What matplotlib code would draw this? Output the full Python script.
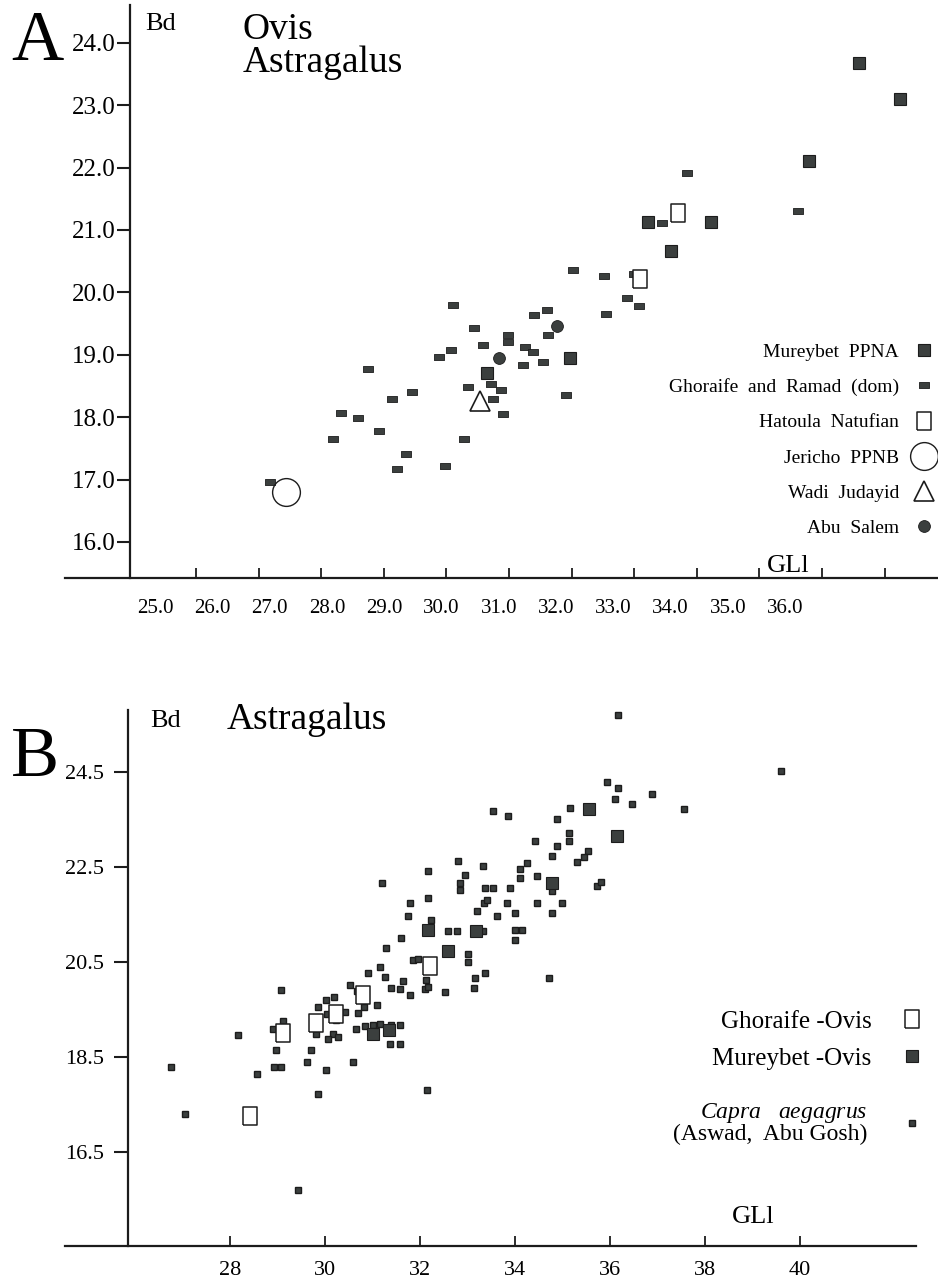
import matplotlib

matplotlib.use("Agg")
import matplotlib.pyplot as plt
from matplotlib.lines import Line2D

plt.rcParams["font.family"] = ["Liberation Serif", "DejaVu Serif"]
plt.rcParams["mathtext.fontset"] = "custom"
plt.rcParams["mathtext.it"] = "Liberation Serif:italic"
plt.rcParams["mathtext.rm"] = "Liberation Serif"

W, H = 938, 1281
INK = "#1c1c1c"
FILL = "#3b3f3e"

# ---- panel A: Ovis astragalus, GLl vs Bd (mm) ----
a_mureybet_gl = [35.59, 36.25, 34.79, 32.22, 33.23, 32.59, 30.97, 29.65]
a_mureybet_bd = [23.67, 23.10, 22.11, 21.12, 21.12, 20.67, 18.94, 18.71]
a_ghoraife_gl = [26.18, 27.19, 27.32, 27.58, 27.74, 27.93, 28.13, 28.21, 28.35, 28.45,
                 28.88, 28.98, 29.08, 29.11, 29.28, 29.35, 29.44, 29.59, 29.71, 29.75,
                 29.87, 29.91, 29.98, 29.98, 30.23, 30.26, 30.39, 30.40, 30.55, 30.60,
                 30.62, 30.91, 31.03, 31.52, 31.55, 31.88, 32.00, 32.08, 32.44, 32.85,
                 34.61]
a_ghoraife_bd = [16.96, 17.65, 18.06, 17.98, 18.77, 17.77, 18.29, 17.17, 17.41, 18.40,
                 18.96, 17.21, 19.08, 19.79, 17.65, 18.48, 19.43, 19.16, 18.53, 18.29,
                 18.43, 18.05, 19.32, 19.21, 18.84, 19.12, 19.04, 19.63, 18.88, 19.71,
                 19.31, 18.35, 20.35, 20.26, 19.66, 19.91, 20.30, 19.78, 21.11, 21.91,
                 21.30]
a_hatoula_gl = [32.70, 32.10]
a_hatoula_bd = [21.27, 20.22]
a_jericho_gl = [26.43]
a_jericho_bd = [16.80]
a_wadi_gl = [29.54]
a_wadi_bd = [18.26]
a_abusalem_gl = [29.84, 30.76]
a_abusalem_bd = [18.95, 19.46]
a_xticks = [25.0, 26.0, 27.0, 28.0, 29.0, 30.0, 31.0, 32.0, 33.0, 34.0, 35.0, 36.0]
a_yticks = [16.0, 17.0, 18.0, 19.0, 20.0, 21.0, 22.0, 23.0, 24.0]

# ---- panel B: Astragalus, GLl vs Bd (mm) ----
b_ghoraife_gl = [32.20, 30.80, 30.23, 29.80, 29.12, 28.42]
b_ghoraife_bd = [20.40, 19.80, 19.39, 19.21, 19.00, 17.25]
b_mureybet_gl = [35.56, 36.14, 34.77, 32.17, 33.17, 32.58, 31.02, 31.35]
b_mureybet_bd = [23.71, 23.15, 22.15, 21.17, 21.15, 20.73, 18.97, 19.06]
b_capra_gl = [36.16, 39.60, 35.93, 36.16, 36.11, 36.89, 36.47, 37.56, 35.16, 34.89,
              33.53, 33.85, 35.14, 35.14, 34.42, 34.89, 35.53, 35.46, 35.31, 34.78,
              32.79, 33.32, 34.25, 32.17, 32.95, 34.11, 34.11, 34.46, 34.77, 35.73,
              35.81, 32.84, 32.84, 31.19, 33.37, 33.53, 33.89, 32.16, 31.79, 31.75,
              32.22, 33.20, 33.35, 33.41, 33.83, 33.62, 34.00, 34.46, 34.98, 34.77,
              33.99, 34.15, 33.99, 34.72, 32.58, 32.78, 33.32, 31.59, 31.28, 33.00,
              33.00, 31.86, 31.95, 31.16, 30.91, 31.27, 31.65, 32.12, 33.15, 33.37,
              33.14, 30.53, 30.68, 31.38, 31.58, 31.79, 32.11, 32.17, 32.53, 31.10,
              30.18, 30.01, 29.85, 30.04, 30.41, 30.70, 30.81, 30.23, 29.80, 30.17,
              30.28, 30.07, 30.65, 30.85, 31.00, 31.16, 31.38, 31.58, 31.37, 31.58,
              29.11, 28.90, 29.07, 28.96, 29.70, 29.61, 28.93, 29.07, 30.01, 30.58,
              28.57, 32.15, 26.75, 27.05, 28.16, 29.43, 29.85]
b_capra_bd = [25.69, 24.51, 24.29, 24.15, 23.93, 24.03, 23.82, 23.71, 23.73, 23.50,
              23.67, 23.57, 23.21, 23.04, 23.04, 22.93, 22.83, 22.71, 22.61, 22.73,
              22.63, 22.52, 22.57, 22.42, 22.32, 22.45, 22.27, 22.31, 21.99, 22.10,
              22.18, 22.15, 22.00, 22.15, 22.05, 22.05, 22.05, 21.84, 21.73, 21.47,
              21.38, 21.57, 21.73, 21.79, 21.74, 21.47, 21.53, 21.74, 21.74, 21.52,
              21.16, 21.16, 20.95, 20.15, 21.15, 21.15, 21.15, 20.99, 20.79, 20.67,
              20.50, 20.53, 20.55, 20.38, 20.26, 20.17, 20.10, 20.11, 20.16, 20.26,
              19.95, 20.01, 19.88, 19.95, 19.93, 19.80, 19.92, 19.96, 19.86, 19.59,
              19.75, 19.69, 19.55, 19.39, 19.44, 19.43, 19.54, 19.28, 18.97, 18.98,
              18.92, 18.87, 19.08, 19.15, 19.17, 19.18, 19.17, 19.17, 18.76, 18.76,
              19.25, 19.08, 19.90, 18.64, 18.64, 18.39, 18.28, 18.28, 18.23, 18.39,
              18.14, 17.80, 18.28, 17.30, 18.96, 15.69, 17.72]
b_xticks = [28, 30, 32, 34, 36, 38, 40]
b_yticks = [16.5, 18.5, 20.5, 22.5, 24.5]

# marker shapes
flat_rect = [(-1, -0.55), (1, -0.55), (1, 0.55), (-1, 0.55), (-1, -0.55)]
tall_rect = [(-0.7, -1), (0.7, -1), (0.7, 1), (-0.7, 1), (-0.7, -1)]
tall_rect_b = [(-0.78, -1), (0.78, -1), (0.78, 1), (-0.78, 1), (-0.78, -1)]


def fx(px):
    return px / W


def fy(py):
    return 1 - py / H


def frame(ax, spine_x):
    for side in ("top", "right"):
        ax.spines[side].set_visible(False)
    ax.spines["left"].set_position(("data", spine_x))
    for side in ("left", "bottom"):
        ax.spines[side].set_linewidth(1.6)
        ax.spines[side].set_color(INK)
    ax.patch.set_alpha(0)


fig = plt.figure(figsize=(W / 100, H / 100), dpi=100)

# ---------------- panel A ----------------
ax = fig.add_axes([fx(65), fy(578), fx(873), 573 / H])
ax.set_xlim(22.907, 36.853)
ax.set_ylim(15.422, 24.604)
frame(ax, 23.946)

st_m = dict(ls="none", marker="s", ms=8.5, mfc=FILL, mec=INK, mew=0.8)
st_g = dict(ls="none", marker=flat_rect, ms=6.8, mfc=FILL, mec=INK, mew=0.6)
st_h = dict(ls="none", marker=tall_rect, ms=13.5, mfc="white", mec=INK, mew=1.1)
st_j = dict(ls="none", marker="o", ms=20, mfc="none", mec=INK, mew=1.0)
st_w = dict(ls="none", marker="^", ms=14, mfc="white", mec=INK, mew=1.2)
st_s = dict(ls="none", marker="o", ms=8.5, mfc=FILL, mec=INK, mew=0.6)

ax.plot(a_ghoraife_gl, a_ghoraife_bd, **st_g)
ax.plot(a_hatoula_gl, a_hatoula_bd, **st_h)
ax.plot(a_mureybet_gl, a_mureybet_bd, **st_m)
ax.plot(a_jericho_gl, a_jericho_bd, **st_j)
ax.plot(a_wadi_gl, a_wadi_bd, **st_w)
ax.plot(a_abusalem_gl, a_abusalem_bd, **st_s)

ax.set_yticks(a_yticks)
ax.set_yticklabels([f"{v:.1f}" for v in a_yticks])
ax.tick_params(axis="y", direction="out", length=9.5, width=1.5, labelsize=18, pad=1, color=INK)
# tick marks sit on the data scale; the printed labels are shifted left in the original
ax.set_xticks(a_xticks, minor=True)
ax.set_xticks([24.345 + (v - 25.0) * 0.9153 for v in a_xticks])
ax.set_xticklabels([f"{v:.1f}" for v in a_xticks])
ax.tick_params(axis="x", which="major", length=0, labelsize=15, pad=15)
ax.tick_params(axis="x", which="minor", direction="in", length=7, width=1.3, color=INK)

leg_a = [
    ("Mureybet  PPNA", st_m),
    ("Ghoraife  and  Ramad  (dom)", st_g),
    ("Hatoula  Natufian", st_h),
    ("Jericho  PPNB", st_j),
    ("Wadi  Judayid", st_w),
    ("Abu  Salem", st_s),
]
ax.legend([Line2D([], [], **s) for _, s in leg_a], [t for t, _ in leg_a],
          markerfirst=False, frameon=False, loc="center right",
          bbox_to_anchor=(fx(938), fy(440)), bbox_transform=fig.transFigure,
          fontsize=14, labelspacing=0.9, handlelength=1.4, handletextpad=0.6,
          borderpad=0, borderaxespad=0)

fig.text(fx(788), fy(566), "GLl", fontsize=19, ha="center", va="center")
fig.text(fx(145), fy(24), "Bd", fontsize=19, ha="left", va="center")
fig.text(fx(243), fy(30), "Ovis", fontsize=27, ha="left", va="center")
fig.text(fx(243), fy(63), "Astragalus", fontsize=27, ha="left", va="center")
fig.text(fx(37), fy(42), "A", fontsize=52, ha="center", va="center")

# ---------------- panel B ----------------
bx = fig.add_axes([fx(65), fy(1245.7), fx(851), 535.7 / H])
bx.set_xlim(24.526, 42.44)
bx.set_ylim(14.521, 25.80)
frame(bx, 25.853)

sb_c = dict(ls="none", marker="s", ms=5, mfc=FILL, mec=INK, mew=1.0)
sb_m = dict(ls="none", marker="s", ms=9, mfc=FILL, mec=INK, mew=0.8)
sb_g = dict(ls="none", marker=tall_rect_b, ms=12.5, mfc="white", mec=INK, mew=1.1)

bx.plot(b_capra_gl, b_capra_bd, **sb_c)
bx.plot(b_ghoraife_gl, b_ghoraife_bd, **sb_g)
bx.plot(b_mureybet_gl, b_mureybet_bd, **sb_m)

bx.set_yticks(b_yticks)
bx.set_yticklabels([f"{v:.1f}" for v in b_yticks])
bx.tick_params(axis="y", direction="out", length=10, width=1.5, labelsize=16, pad=7, color=INK)
bx.set_xticks(b_xticks)
bx.set_xticklabels([str(v) for v in b_xticks])
bx.tick_params(axis="x", direction="in", length=7, width=1.3, labelsize=16, pad=11, color=INK)

leg1 = bx.legend([Line2D([], [], **sb_g), Line2D([], [], **sb_m)],
                 ["Ghoraife -Ovis", "Mureybet -Ovis"],
                 markerfirst=False, frameon=False, loc="center right",
                 bbox_to_anchor=(fx(924), fy(1040)), bbox_transform=fig.transFigure,
                 fontsize=18, labelspacing=0.6, handlelength=1.0, handletextpad=1.1,
                 borderpad=0, borderaxespad=0)
bx.add_artist(leg1)
leg2 = bx.legend([Line2D([], [], **sb_c)],
                 [r"$\it{Capra}$   $\it{aegagrus}$" + "\n(Aswad,  Abu Gosh)"],
                 markerfirst=False, frameon=False, loc="center right",
                 bbox_to_anchor=(fx(924), fy(1123)), bbox_transform=fig.transFigure,
                 fontsize=17, handlelength=1.0, handletextpad=1.4,
                 borderpad=0, borderaxespad=0)
for t in leg2.get_texts():
    t.set_multialignment("right")
    t.set_linespacing(0.9)

fig.text(fx(753), fy(1217), "GLl", fontsize=19, ha="center", va="center")
fig.text(fx(150), fy(721), "Bd", fontsize=19, ha="left", va="center")
fig.text(fx(227), fy(720), "Astragalus", fontsize=27, ha="left", va="center")
fig.text(fx(35), fy(758), "B", fontsize=52, ha="center", va="center")

fig.savefig("out.png", dpi=100)
